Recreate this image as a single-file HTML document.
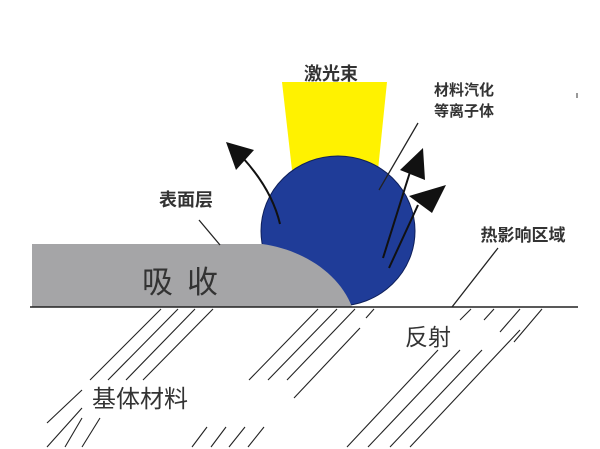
<!DOCTYPE html>
<html><head><meta charset="utf-8"><style>
html,body{margin:0;padding:0;background:#fff;}
svg{display:block}
text{font-family:"Liberation Sans","Noto Sans CJK SC",sans-serif;fill:#333;}
</style></head><body>
<svg width="600" height="449" viewBox="0 0 600 449" xmlns="http://www.w3.org/2000/svg">
<polygon points="282,82 387,82 378,170 292,170" fill="#fff200"/>
<ellipse cx="338" cy="231" rx="77" ry="75" fill="#1f3c98" stroke="#0e1f5a" stroke-width="1"/>
<path d="M32,244 L262,244 C305,250 340,275 352,307 L32,307 Z" fill="#a5a5a7"/>
<line x1="30" y1="307" x2="578" y2="307" stroke="#222" stroke-width="1.6"/>
<g stroke="#222" stroke-width="1.1" fill="none">
<line x1="161" y1="309" x2="90" y2="380"/>
<line x1="178" y1="309" x2="108" y2="380"/>
<line x1="195" y1="309" x2="126" y2="380"/>
<line x1="213" y1="309" x2="143" y2="380"/>
<line x1="82" y1="390" x2="47" y2="423"/>
<line x1="82" y1="408" x2="47" y2="447"/>
<line x1="82" y1="418" x2="65" y2="447"/>
<line x1="100" y1="418" x2="82" y2="447"/>
<line x1="207" y1="427" x2="192" y2="447"/>
<line x1="226" y1="427" x2="211" y2="447"/>
<line x1="245" y1="427" x2="229" y2="447"/>
<line x1="264" y1="427" x2="248" y2="447"/>
<line x1="318" y1="309" x2="249" y2="380"/>
<line x1="337" y1="309" x2="268" y2="380"/>
<line x1="355" y1="309" x2="287" y2="380"/>
<line x1="360" y1="328" x2="294" y2="398"/>
<line x1="374" y1="309" x2="366" y2="318"/>
<line x1="471" y1="309" x2="460" y2="320"/>
<line x1="494" y1="309" x2="484" y2="320"/>
<line x1="520" y1="309" x2="500" y2="332"/>
<line x1="542" y1="309" x2="514" y2="342"/>
<line x1="438" y1="350" x2="347" y2="447"/>
<line x1="460" y1="350" x2="368" y2="447"/>
<line x1="482" y1="350" x2="390" y2="447"/>
<line x1="520" y1="330" x2="410" y2="447"/>
</g>
<g stroke="#222" stroke-width="1.3" fill="none">
<line x1="199" y1="220" x2="220" y2="245"/>
<line x1="418" y1="123" x2="379" y2="190"/>
<line x1="498" y1="248" x2="452" y2="307"/>
</g>
<g stroke="#111" stroke-width="2" fill="#111">
<path d="M280,224 Q272,190 243,158" fill="none"/>
<polygon points="226,142 254,150 236,170" stroke="none"/>
<line x1="383" y1="258" x2="410" y2="172"/>
<polygon points="423,148 425,180 400,170" stroke="none"/>
<line x1="389" y1="268" x2="418" y2="205"/>
<polygon points="446,185 432,213 409,196" stroke="none"/>
</g>
<text x="331" y="80" font-size="18" text-anchor="middle" font-weight="bold">激光束</text>
<text x="464" y="95" font-size="15" text-anchor="middle" font-weight="bold">材料汽化</text>
<text x="464" y="116" font-size="15" text-anchor="middle" font-weight="bold">等离子体</text>
<text x="186" y="206" font-size="18" text-anchor="middle" font-weight="bold">表面层</text>
<text x="523" y="241" font-size="17" text-anchor="middle" font-weight="bold">热影响区域</text>
<text x="187" y="293" font-size="31" text-anchor="middle" letter-spacing="14" fill="#222">吸收</text>
<text x="428" y="345" font-size="23" text-anchor="middle">反射</text>
<text x="140" y="407" font-size="24" text-anchor="middle">基体材料</text>
<line x1="577" y1="93" x2="577" y2="98" stroke="#333" stroke-width="1"/>
</svg>
</body></html>
